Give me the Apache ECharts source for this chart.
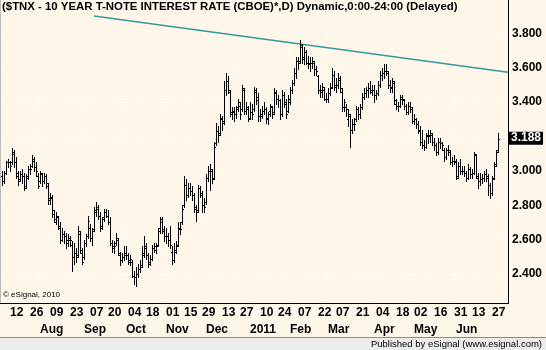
<!DOCTYPE html>
<html>
<head>
<meta charset="utf-8">
<script src="https://cdn.jsdelivr.net/npm/echarts@6/dist/echarts.min.js"></script>
<style>
  html, body { margin: 0; padding: 0; background: #FDF6E9; }
  #chart { width: 546px; height: 350px; }
</style>
</head>
<body>
<div id="chart"></div>
<script>
// Daily OHLC of $TNX (10-year T-note yield, CBOE), Jul 6 2010 - Jun 30 2011.
const firstDay = '2010-07-06';
const lastAxisDay = '2011-07-08';
const marketHolidays = ['2010-09-06','2010-10-11','2010-11-11','2010-11-25','2010-12-24',
  '2011-01-17','2011-02-21','2011-04-22','2011-05-30','2011-07-04'];

const open = [
  2.97,2.94,2.99,3.05,3.05,3.05,3.10,3.05,2.97,2.95,2.98,2.97,2.91,2.97,3.01,3.03,3.06,3.02,2.97,
  2.94,2.98,2.94,2.97,2.91,2.84,2.84,2.75,2.70,2.73,2.67,2.60,2.63,2.62,2.58,2.60,2.57,2.50,2.52,2.51,2.63,2.52,
  2.50,2.58,2.62,2.67,2.61,2.66,2.76,2.78,2.74,2.67,2.73,2.76,2.74,2.70,2.58,2.55,2.58,2.60,2.51,2.48,2.50,
  2.52,2.51,2.48,2.47,2.39,2.38,2.40,2.43,2.45,2.52,2.55,2.51,2.47,2.49,2.55,2.54,2.57,2.67,2.70,2.65,
  2.62,2.62,2.60,2.53,2.48,2.54,2.57,2.67,2.70,2.80,2.92,2.86,2.90,2.88,2.86,2.78,2.77,2.90,2.86,2.80,
  2.82,2.96,3.00,3.00,2.96,3.16,3.23,3.22,3.30,3.29,3.47,3.52,3.46,3.34,3.35,3.33,3.37,3.38,3.36,3.47,3.35,3.36,
  3.31,3.34,3.36,3.46,3.43,3.32,3.33,3.35,3.36,3.30,3.35,3.37,3.34,3.45,3.42,3.41,3.33,3.44,3.39,3.35,
  3.40,3.47,3.51,3.57,3.64,3.64,3.72,3.65,3.69,3.63,3.63,3.63,3.63,3.59,3.55,3.47,3.47,3.47,3.42,
  3.42,3.45,3.49,3.56,3.50,3.50,3.53,3.46,3.37,3.37,3.30,3.32,3.24,3.27,3.30,3.36,3.33,3.37,3.43,3.45,3.47,3.48,3.46,
  3.47,3.44,3.45,3.50,3.56,3.57,3.58,3.57,3.50,3.48,3.51,3.39,3.38,3.38,3.42,3.41,3.38,3.34,3.38,3.36,
  3.29,3.30,3.27,3.23,3.17,3.15,3.14,3.21,3.20,3.21,3.17,3.15,3.11,3.17,3.16,3.12,3.08,3.12,3.11,3.05,3.06,
  3.05,2.97,3.03,3.00,3.00,2.99,2.96,3.01,2.98,2.99,3.09,2.96,2.94,2.95,2.96,2.98,2.96,2.92,2.87,2.96,3.04,3.12
];
const high = [
  3.00,3.00,3.06,3.07,3.06,3.13,3.12,3.08,3.00,3.00,3.01,2.99,2.98,3.03,3.04,3.09,3.08,3.05,2.99,
  3.00,2.99,2.99,2.98,2.93,2.87,2.86,2.77,2.76,2.74,2.70,2.67,2.65,2.64,2.63,2.62,2.59,2.58,2.55,2.68,2.65,2.55,
  2.60,2.63,2.74,2.69,2.67,2.79,2.82,2.80,2.76,2.73,2.78,2.78,2.77,2.73,2.60,2.59,2.64,2.61,2.53,2.52,2.56,
  2.56,2.52,2.51,2.48,2.42,2.44,2.46,2.48,2.56,2.62,2.58,2.52,2.51,2.57,2.58,2.58,2.67,2.73,2.73,2.68,
  2.67,2.64,2.68,2.56,2.58,2.59,2.70,2.70,2.80,2.97,2.95,2.93,2.93,2.91,2.87,2.80,2.92,2.91,2.88,2.84,
  2.98,3.03,3.04,3.01,3.17,3.28,3.26,3.33,3.32,3.52,3.57,3.55,3.47,3.37,3.37,3.38,3.42,3.40,3.50,3.48,3.40,3.38,
  3.40,3.39,3.49,3.48,3.45,3.36,3.38,3.40,3.37,3.34,3.39,3.38,3.48,3.47,3.44,3.42,3.47,3.46,3.42,3.44,
  3.49,3.53,3.60,3.66,3.66,3.76,3.74,3.72,3.70,3.67,3.66,3.66,3.64,3.61,3.56,3.50,3.51,3.49,3.45,
  3.48,3.51,3.60,3.58,3.54,3.57,3.55,3.48,3.42,3.39,3.36,3.33,3.30,3.31,3.38,3.37,3.39,3.45,3.48,3.49,3.51,3.52,3.50,
  3.50,3.47,3.52,3.58,3.60,3.62,3.62,3.58,3.53,3.54,3.52,3.42,3.40,3.44,3.44,3.42,3.39,3.40,3.40,3.37,
  3.33,3.31,3.29,3.26,3.24,3.18,3.22,3.24,3.24,3.22,3.19,3.16,3.19,3.19,3.17,3.13,3.13,3.15,3.12,3.08,3.09,
  3.07,3.05,3.07,3.03,3.03,3.00,3.04,3.02,3.01,3.11,3.10,2.99,2.99,2.98,3.00,3.01,2.98,2.93,2.97,3.05,3.12,3.22
];
const low = [
  2.92,2.93,2.98,3.02,3.00,3.04,3.02,2.96,2.92,2.94,2.93,2.89,2.90,2.95,2.98,3.02,3.00,2.97,2.90,
  2.93,2.91,2.93,2.90,2.81,2.81,2.73,2.70,2.69,2.66,2.58,2.59,2.58,2.55,2.56,2.56,2.42,2.46,2.47,2.50,2.52,2.46,
  2.49,2.56,2.61,2.59,2.57,2.65,2.74,2.72,2.65,2.66,2.71,2.73,2.69,2.57,2.53,2.52,2.57,2.51,2.45,2.47,2.48,
  2.49,2.46,2.45,2.38,2.34,2.33,2.38,2.41,2.44,2.50,2.49,2.44,2.45,2.48,2.53,2.52,2.56,2.64,2.64,2.59,
  2.58,2.56,2.55,2.46,2.47,2.52,2.56,2.63,2.69,2.79,2.83,2.85,2.86,2.83,2.76,2.71,2.76,2.85,2.76,2.76,
  2.81,2.94,2.89,2.93,2.95,3.15,3.17,3.21,3.24,3.27,3.44,3.45,3.32,3.30,3.29,3.31,3.35,3.30,3.35,3.33,3.33,3.29,
  3.30,3.30,3.35,3.39,3.29,3.29,3.31,3.33,3.28,3.27,3.32,3.31,3.33,3.39,3.37,3.30,3.32,3.37,3.31,3.34,
  3.39,3.45,3.50,3.54,3.59,3.63,3.63,3.62,3.62,3.60,3.58,3.60,3.56,3.56,3.45,3.43,3.43,3.41,3.40,
  3.40,3.44,3.48,3.47,3.46,3.48,3.46,3.35,3.35,3.32,3.26,3.14,3.22,3.24,3.29,3.30,3.31,3.36,3.42,3.43,3.43,3.45,3.44,
  3.40,3.42,3.44,3.49,3.53,3.54,3.56,3.48,3.46,3.46,3.39,3.36,3.35,3.37,3.39,3.36,3.33,3.33,3.34,3.28,
  3.27,3.25,3.22,3.15,3.13,3.12,3.13,3.16,3.17,3.15,3.12,3.09,3.10,3.13,3.12,3.06,3.07,3.09,3.04,3.03,3.04,
  2.95,2.96,2.98,2.98,2.97,2.94,2.95,2.96,2.96,2.98,2.96,2.90,2.92,2.93,2.94,2.94,2.86,2.84,2.86,2.95,3.03,3.11
];
const close = [
  2.94,2.99,3.05,3.05,3.03,3.11,3.05,2.99,2.94,2.98,2.97,2.90,2.96,3.01,3.01,3.07,3.02,3.00,2.91,
  2.99,2.94,2.97,2.93,2.83,2.85,2.77,2.72,2.74,2.68,2.60,2.63,2.62,2.60,2.61,2.60,2.50,2.52,2.50,2.65,2.54,2.47,
  2.58,2.62,2.71,2.61,2.65,2.77,2.79,2.74,2.68,2.72,2.76,2.74,2.70,2.58,2.56,2.56,2.61,2.52,2.48,2.50,2.51,
  2.51,2.47,2.49,2.39,2.38,2.40,2.43,2.44,2.51,2.56,2.51,2.46,2.49,2.55,2.56,2.56,2.65,2.72,2.66,2.62,
  2.62,2.60,2.57,2.48,2.53,2.56,2.66,2.66,2.78,2.92,2.86,2.90,2.88,2.86,2.79,2.76,2.90,2.87,2.80,2.79,
  2.96,3.00,3.01,2.95,3.14,3.23,3.21,3.31,3.28,3.47,3.52,3.47,3.33,3.34,3.33,3.36,3.40,3.33,3.48,3.35,3.37,3.30,
  3.34,3.33,3.47,3.41,3.32,3.32,3.35,3.36,3.31,3.33,3.38,3.33,3.46,3.42,3.41,3.33,3.44,3.40,3.33,3.42,
  3.47,3.51,3.57,3.64,3.63,3.73,3.66,3.69,3.63,3.62,3.63,3.64,3.59,3.58,3.47,3.46,3.49,3.42,3.42,
  3.45,3.48,3.56,3.49,3.50,3.54,3.48,3.37,3.40,3.36,3.33,3.24,3.27,3.27,3.36,3.33,3.37,3.43,3.45,3.47,3.48,3.47,3.47,
  3.44,3.45,3.50,3.56,3.57,3.58,3.58,3.50,3.49,3.52,3.41,3.38,3.38,3.43,3.42,3.38,3.34,3.38,3.37,3.29,
  3.30,3.27,3.24,3.17,3.15,3.14,3.20,3.21,3.22,3.17,3.15,3.11,3.17,3.16,3.15,3.08,3.12,3.12,3.05,3.06,3.06,
  2.96,3.03,3.00,3.00,2.99,2.96,3.01,2.98,2.99,3.10,2.97,2.94,2.95,2.96,2.98,2.97,2.92,2.87,2.95,3.03,3.11,3.188
];

// Resistance line drawn across the Feb 2011 high: [bar index, yield]
const trendLine = [[46, 3.900], [253, 3.573]];

// Axis labels
const dayTicks = ['2010-07-12','2010-07-26','2010-08-09','2010-08-23','2010-09-07','2010-09-20',
  '2010-10-04','2010-10-18','2010-11-01','2010-11-15','2010-11-29','2010-12-13','2010-12-27',
  '2011-01-10','2011-01-24','2011-02-07','2011-02-22','2011-03-07','2011-03-21','2011-04-04',
  '2011-04-18','2011-05-02','2011-05-16','2011-05-31','2011-06-13','2011-06-27'];
const monthStarts = ['2010-08-02','2010-09-01','2010-10-01','2010-11-01','2010-12-01','2011-01-03',
  '2011-02-01','2011-03-01','2011-04-01','2011-05-02','2011-06-01'];
const monthNames = ['Aug','Sep','Oct','Nov','Dec','2011','Feb','Mar','Apr','May','Jun'];
const yTickStep = 0.2;

const titleText = '($TNX - 10 YEAR T-NOTE INTEREST RATE (CBOE)*,D) Dynamic,0:00-24:00 (Delayed)';

// Trading-day calendar for the category axis (weekdays minus market holidays)
function tradingDays(from, to, holidays) {
  const out = [];
  const skip = new Set(holidays);
  const d = new Date(from + 'T00:00:00Z');
  const end = new Date(to + 'T00:00:00Z');
  while (d <= end) {
    const wd = d.getUTCDay();
    const s = d.toISOString().slice(0, 10);
    if (wd !== 0 && wd !== 6 && !skip.has(s)) out.push(s);
    d.setUTCDate(d.getUTCDate() + 1);
  }
  return out;
}
const days = tradingDays(firstDay, lastAxisDay, marketHolidays);
const bars = close.map((c, i) => [i, open[i], high[i], low[i], c]);
const lastClose = close[close.length - 1];

const daySet = new Set(dayTicks);
const monthMap = {};
monthStarts.forEach((d, i) => { monthMap[d] = monthNames[i]; });

const FONT = '"Liberation Sans", Arial, sans-serif';
const plotH = 303;
const barStep = 2;

// price scale label: skip a tick label that would sit under the last-value tag
function yLabel(v) {
  const onStep = Math.abs(v / yTickStep - Math.round(v / yTickStep)) < 1e-6;
  if (!onStep || Math.abs(v - lastClose) < 0.05) return '';
  return v.toFixed(3);
}

const chart = echarts.init(document.getElementById('chart'), null, { renderer: 'canvas' });

chart.setOption({
  animation: false,
  backgroundColor: '#FDF6E9',
  textStyle: { fontFamily: FONT },
  grid: { left: 1, top: 0, width: barStep * days.length, height: plotH, containLabel: false },
  xAxis: [
    {
      type: 'category', data: days, boundaryGap: true, position: 'bottom',
      axisLine: { show: false }, axisTick: { show: false },
      splitLine: { show: false },
      axisLabel: {
        interval: (idx, val) => daySet.has(val),
        formatter: v => v.slice(8),
        align: 'left', margin: 4, hideOverlap: false,
        fontFamily: FONT, fontSize: 12, fontWeight: 'bold', color: '#000'
      }
    },
    {
      type: 'category', data: days, boundaryGap: true, position: 'bottom', offset: 17,
      axisLine: { show: false }, axisTick: { show: false },
      splitLine: {
        show: true,
        interval: (idx, val) => val in monthMap,
        lineStyle: { color: '#FFFFFF', width: 1, type: [1, 2] }
      },
      axisLabel: {
        interval: (idx, val) => val in monthMap,
        formatter: v => monthMap[v] || '',
        align: 'left', margin: 4, hideOverlap: false,
        fontFamily: FONT, fontSize: 12, fontWeight: 'bold', color: '#000'
      }
    }
  ],
  yAxis: {
    type: 'value', position: 'right',
    min: 2.2313, max: 3.9937,
    splitNumber: 8, minInterval: yTickStep, maxInterval: yTickStep,
    axisLine: { show: false }, axisTick: { show: false },
    axisLabel: {
      showMinLabel: false, showMaxLabel: false, margin: 3,
      formatter: yLabel,
      fontFamily: FONT, fontSize: 12, fontWeight: 'bold', color: '#000'
    },
    splitLine: {
      show: true, showMinLine: false, showMaxLine: false,
      lineStyle: { color: '#FFFFFF', width: 1, type: [1, 2] }
    }
  },
  series: [
    {
      name: 'trend', type: 'line', data: trendLine, xAxisIndex: 0, yAxisIndex: 0,
      symbol: 'none', silent: true, z: 1,
      lineStyle: { color: '#339A9A', width: 1.5 },
      markLine: {
        silent: true, symbol: ['none', 'none'],
        lineStyle: { color: 'rgba(0,0,0,0)', width: 0, type: 'solid' },
        data: [{ yAxis: lastClose }],
        label: {
          show: true, position: 'end', distance: 0,
          formatter: () => lastClose.toFixed(3),
          color: '#FFFFFF', backgroundColor: '#000000', opacity: 1,
          fontFamily: FONT, fontSize: 12, fontWeight: 'bold',
          padding: [0, 2, 0, 2], lineHeight: 13
        }
      }
    },
    {
      name: '$TNX', type: 'custom', data: bars, xAxisIndex: 0, yAxisIndex: 0,
      encode: { x: 0, y: [1, 2, 3, 4] }, clip: true, z: 2,
      renderItem: (params, api) => {
        const i = api.value(0);
        const pO = api.coord([i, api.value(1)]);
        const pH = api.coord([i, api.value(2)]);
        const pL = api.coord([i, api.value(3)]);
        const pC = api.coord([i, api.value(4)]);
        const x = Math.round(pO[0]) + 0.5;
        const yo = Math.round(pO[1]) + 0.5;
        const yc = Math.round(pC[1]) + 0.5;
        const st = { stroke: '#000000', lineWidth: 1 };
        return {
          type: 'group',
          children: [
            { type: 'line', shape: { x1: x, y1: Math.round(pH[1]), x2: x, y2: Math.round(pL[1]) + 1 }, style: st },
            { type: 'line', shape: { x1: x - 1.5, y1: yo, x2: x - 0.5, y2: yo }, style: st },
            { type: 'line', shape: { x1: x + 0.5, y1: yc, x2: x + 1.5, y2: yc }, style: st }
          ]
        };
      }
    }
  ],
  graphic: [
    { type: 'line', z: 50, shape: { x1: 0.5, y1: 0, x2: 0.5, y2: plotH }, style: { stroke: '#BDBDBD', lineWidth: 1 } },
    { type: 'line', z: 50, shape: { x1: 508.5, y1: 0, x2: 508.5, y2: plotH + 1 }, style: { stroke: '#000000', lineWidth: 1 } },
    { type: 'line', z: 50, shape: { x1: 0, y1: plotH + 0.5, x2: 509, y2: plotH + 0.5 }, style: { stroke: '#000000', lineWidth: 1 } },
    { type: 'text', z: 50, left: 2, top: 1,
      style: { text: titleText, font: 'bold 11.4px ' + FONT, fill: '#000000' } },
    { type: 'text', z: 50, left: 3, top: 291,
      style: { text: '\u00A9 eSignal, 2010', font: '8px ' + FONT, fill: '#000000' } },
    { type: 'rect', z: 40, shape: { x: 0, y: 337, width: 546, height: 13 },
      style: { fill: '#ECECEC', stroke: null } },
    { type: 'line', z: 41, shape: { x1: 0, y1: 337.5, x2: 546, y2: 337.5 }, style: { stroke: '#8C8C8C', lineWidth: 1 } },
    { type: 'text', z: 50, right: 4, top: 339,
      style: { text: 'Published by eSignal (www.esignal.com)', font: '9.5px ' + FONT, fill: '#000000' } }
  ]
});
</script>
</body>
</html>
